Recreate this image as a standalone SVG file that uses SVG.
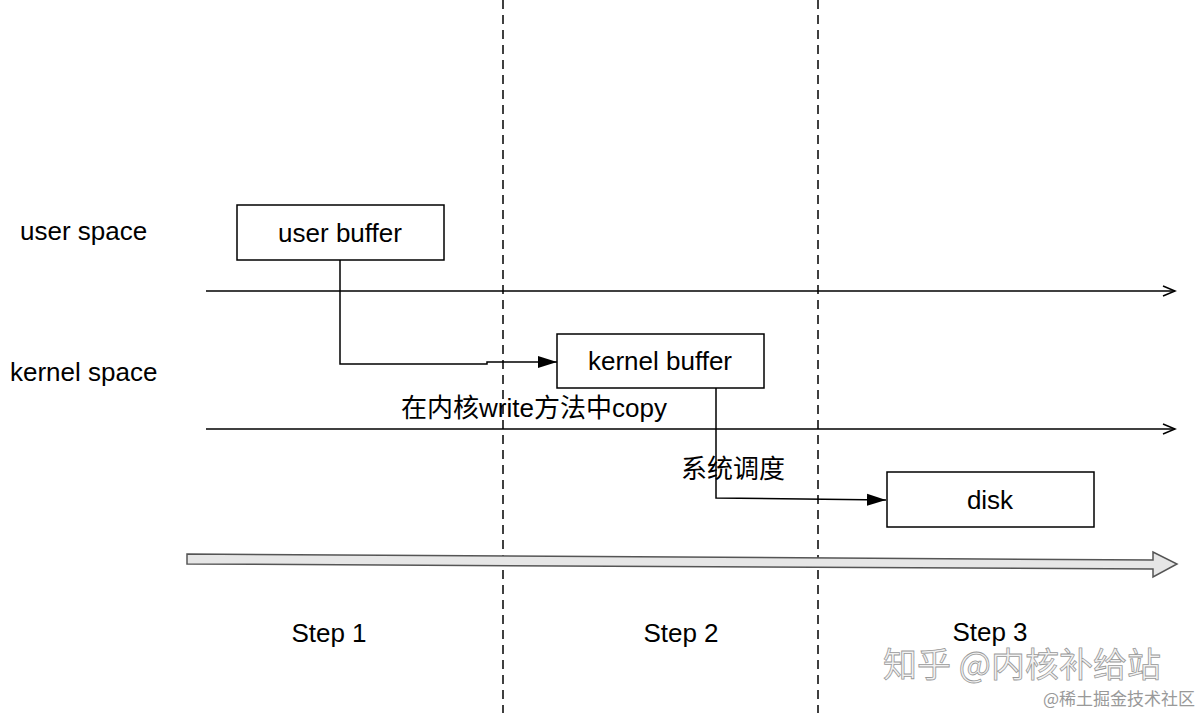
<svg xmlns="http://www.w3.org/2000/svg" width="1200" height="713" viewBox="0 0 1200 713">
<defs>
<style>
.t{font-family:"Liberation Sans","Noto Sans CJK SC",sans-serif;font-size:26px;fill:#000}
.box{fill:#fff;stroke:#000;stroke-width:1.5}
.ln{fill:none;stroke:#000;stroke-width:1.5}
.dash{stroke:#000;stroke-width:1.5;stroke-dasharray:9,6}
</style>
<marker id="open" markerWidth="16" markerHeight="12" refX="14" refY="6" orient="auto" markerUnits="userSpaceOnUse">
<path d="M2,1 L14,6 L2,11" fill="none" stroke="#000" stroke-width="1.5"/>
</marker>
<marker id="fill" markerWidth="20" markerHeight="14" refX="19" refY="7" orient="auto" markerUnits="userSpaceOnUse">
<path d="M0,1 L19,7 L0,13 Z" fill="#000"/>
</marker>
</defs>
<rect width="1200" height="713" fill="#fff"/>
<g id="dividers">
<line class="dash" x1="503" y1="0" x2="503" y2="713"/>
<line class="dash" x1="818" y1="0" x2="818" y2="713"/>
</g>
<g id="labels">
<text class="t" x="20" y="240">user space</text>
<text class="t" x="10" y="381">kernel space</text>
<text class="t" x="329" y="642" text-anchor="middle">Step 1</text>
<text class="t" x="681" y="642" text-anchor="middle">Step 2</text>
<text class="t" x="990" y="641" text-anchor="middle">Step 3</text>
</g>
<g id="connectors">
<line class="ln" x1="206" y1="291" x2="1175" y2="291" marker-end="url(#open)"/>
<line class="ln" x1="206" y1="429" x2="1175" y2="429" marker-end="url(#open)"/>
<polyline class="ln" points="340,260 340,364 487,364 487,362 557,362" marker-end="url(#fill)"/>
<polyline class="ln" points="716,388 716,498 886,500" marker-end="url(#fill)"/>
<polygon points="187,554 1153,560 1153,552 1177,564 1153,577 1153,569 187,564" fill="#e6e6e6" stroke="#555" stroke-width="1.5"/>
<text class="t" x="534" y="417" text-anchor="middle">在内核write方法中copy</text>
<text class="t" x="733" y="478" text-anchor="middle">系统调度</text>
</g>
<g id="user-buffer">
<rect class="box" x="237" y="205" width="207" height="55"/>
<text class="t" x="340" y="242" text-anchor="middle">user buffer</text>
</g>
<g id="kernel-buffer">
<rect class="box" x="557" y="334" width="207" height="54"/>
<text class="t" x="660" y="370" text-anchor="middle">kernel buffer</text>
</g>
<g id="disk">
<rect class="box" x="887" y="472" width="207" height="55"/>
<text class="t" x="990" y="509" text-anchor="middle">disk</text>
</g>
<g id="watermark">
<text x="1022" y="677" text-anchor="middle" font-family="'Noto Sans CJK SC',sans-serif" font-size="34" fill="#f2f2f2" stroke="#999" stroke-width="0.8">知乎 @内核补给站</text>
<text x="1195" y="705" text-anchor="end" font-family="'Noto Sans CJK SC',sans-serif" font-size="17" fill="#999">@稀土掘金技术社区</text>
</g>
</svg>
